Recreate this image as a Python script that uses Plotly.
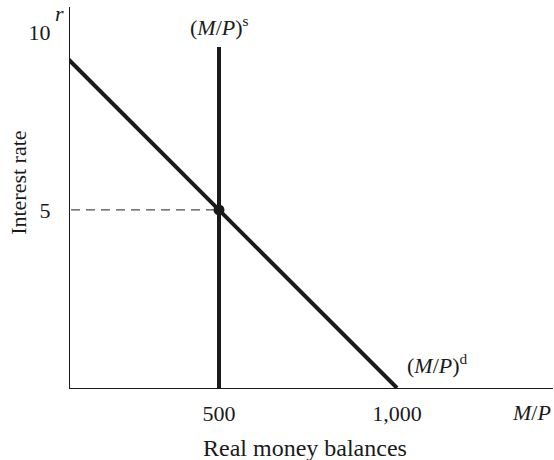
import plotly.graph_objects as go

# Data
demand_x = [0, 1000]
demand_r = [10, 0]
supply_x = [500, 500]
supply_r = [0, 9.58]
eq_x = [500]
eq_r = [5]
guide_x = [0, 500]
guide_r = [5, 5]
x_tickvals = [500, 1000]
x_ticktext = ["500", "1,000"]
y_tickvals = [5, 10]
y_ticktext = ["5", "10"]

FONT = "Liberation Serif"
INK = "#1a1a1a"

fig = go.Figure()
fig.add_trace(go.Scatter(x=guide_x, y=guide_r, mode="lines",
                         line=dict(color="#4d4d4d", width=1.3, dash="9px,6px"),
                         hoverinfo="skip", showlegend=False))
fig.add_trace(go.Scatter(x=demand_x, y=demand_r, mode="lines",
                         line=dict(color=INK, width=4), showlegend=False))
fig.add_trace(go.Scatter(x=supply_x, y=supply_r, mode="lines",
                         line=dict(color=INK, width=4), showlegend=False))
fig.add_trace(go.Scatter(x=eq_x, y=eq_r, mode="markers",
                         marker=dict(color=INK, size=11), showlegend=False))

annotations = [
    dict(text="(<i>M</i>/<i>P</i>)<sup>s</sup>", x=500, y=10.17, xref="x", yref="y",
         showarrow=False, xanchor="center", yanchor="middle"),
    dict(text="(<i>M</i>/<i>P</i>)<sup>d</sup>", x=1022, y=0.67, xref="x", yref="y",
         showarrow=False, xanchor="left", yanchor="middle"),
    dict(text="<i>r</i>", x=-0.021, y=1.0184, xref="paper", yref="paper",
         showarrow=False, xanchor="center", yanchor="top", borderpad=0),
    dict(text="<i>M</i>/<i>P</i>", x=1.0, y=-0.0656, xref="paper", yref="paper",
         showarrow=False, xanchor="right", yanchor="middle"),
    dict(text="Interest rate", x=-0.108, y=0.538, xref="paper", yref="paper",
         showarrow=False, textangle=-90, xanchor="center", yanchor="middle"),
    dict(text="Real money balances", x=0.4865, y=-0.158, xref="paper", yref="paper",
         showarrow=False, xanchor="center", yanchor="middle", font=dict(size=24)),
]

fig.update_layout(
    width=554, height=460,
    margin=dict(l=70, r=1, t=7, b=72),
    paper_bgcolor="white", plot_bgcolor="white",
    font=dict(family=FONT, size=22, color=INK),
    annotations=annotations,
    xaxis=dict(range=[81.5, 1438], showgrid=False, zeroline=False,
               showline=True, linecolor=INK, linewidth=1.3,
               tickvals=x_tickvals, ticktext=x_ticktext, ticks="",
               ticklabelstandoff=5),
    yaxis=dict(range=[0, 10.7], showgrid=False, zeroline=False,
               showline=True, linecolor=INK, linewidth=1.3,
               tickvals=y_tickvals, ticktext=y_ticktext, ticks="",
               ticklabelstandoff=14),
)

fig.write_html("out.html", config={"displayModeBar": False},
               post_script="document.body.style.margin='0';document.body.style.overflow='hidden';")
